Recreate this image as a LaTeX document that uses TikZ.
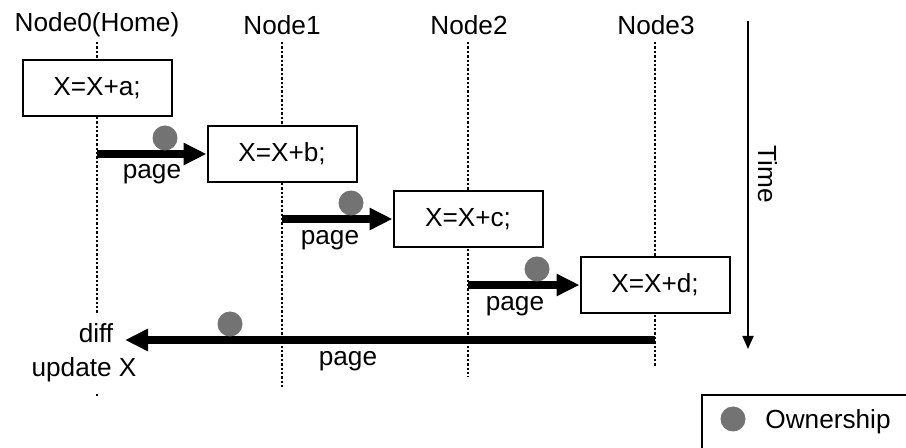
\documentclass[tikz,border=0pt]{standalone}
\usepackage{fontspec}
\setmainfont{Liberation Sans}
\usetikzlibrary{positioning,arrows.meta}

\begin{document}
\begin{tikzpicture}[
          x=0.5pt, y=-0.5pt,
          every node/.style={font=\fontsize{13.1}{15}\selectfont, inner sep=0pt},
          life/.style={line width=0.7pt, dash pattern=on 1.2pt off 1pt},
          op/.style={draw, line width=1pt, fill=white, minimum width=74.5pt, minimum height=28pt},
          msg/.style={line width=3.8pt, -{Triangle[length=11.5pt,width=10.5pt]}},
          timeline/.style={line width=0.9pt, -{Triangle[length=6.5pt,width=5.5pt]}},
          own/.style={circle, fill=black!55, minimum size=12.5pt},
          lbl/.style={fill=white, inner xsep=1pt, inner ysep=5pt}
      ]
        \useasboundingbox (0,0) rectangle (906,448);
        % processors and their lifelines
        \node (h0) at (97,25) {Node0(Home)};
        \node (h1) at (282,25) {Node1};
        \node (h2) at (469,25) {Node2};
        \node (h3) at (656,25) {Node3};
        \foreach \i/\x/\e in {0/97/396,1/282/387,2/468/377,3/655/367} {
          \coordinate (t\i) at (\x,42);
          \coordinate (b\i) at (\x,\e);
          \draw[life] (t\i) -- (b\i);
        }
        % updates
        \node[op] (xa) at (97,88) {X=X+a;};
        \node[op] (xb) at (282,154) {X=X+b;};
        \node[op] (xc) at (468,219) {X=X+c;};
        \node[op] (xd) at (655,285) {X=X+d;};
        % page transfers
        \coordinate (s1) at (97,154);
        \coordinate (s2) at (282,219);
        \coordinate (s3) at (468,285);
        \coordinate (s4) at (655,340);
        \coordinate (r4) at (125,340);
        \draw[msg] (s1) -- (xb.west);
        \draw[msg] (s2) -- (xc.west);
        \draw[msg] (s3) -- (xd.west);
        \draw[msg] (s4) -- (r4);
        \node[own] (o1) at (165,138) {};
        \node[own] (o2) at (351,203) {};
        \node[own] (o3) at (537,269) {};
        \node[own] (o4) at (230,324) {};
        \node (p1) at (152,174) {page};
        \node (p2) at (330,240) {page};
        \node (p3) at (515,306) {page};
        \node (p4) at (348,361) {page};
        \node[lbl] (df) at (96,333) {diff};
        \node[lbl] (ux) at (84,370) {update X};
        % time axis
        \coordinate (ta) at (748,21);
        \coordinate (tb) at (748,349);
        \draw[timeline] (ta) -- (tb);
        \node[rotate=-90] (tm) at (768,174) {Time};
        % legend
        \begin{scope}
          \clip (0,0) rectangle (906,448);
          \draw[line width=1pt] (702,395) rectangle (915,460);
        \end{scope}
        \node[own] (lg) at (733,419) {};
        \node (lt) at (828,422) {Ownership};
      \end{tikzpicture}
\end{document}
